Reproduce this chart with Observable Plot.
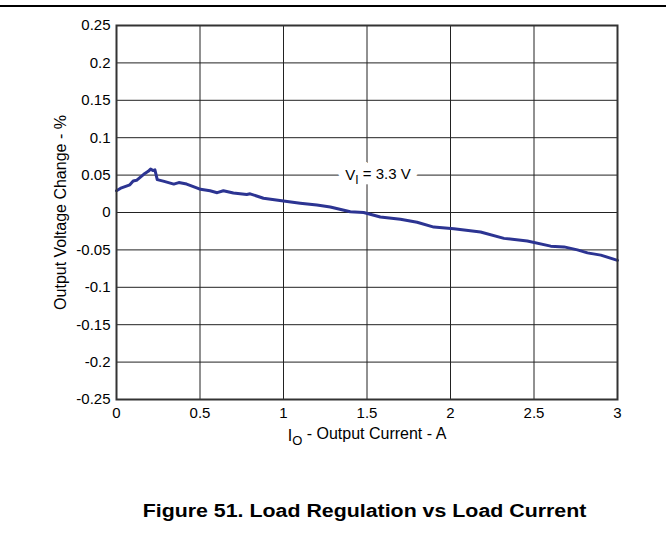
<!DOCTYPE html>
<html>
<head>
<meta charset="utf-8">
<script src="https://cdn.jsdelivr.net/npm/d3@7"></script>
<script src="https://cdn.jsdelivr.net/npm/@observablehq/plot@0.6"></script>
<style>
  html, body { margin: 0; padding: 0; background: #fff; }
  #wrap { position: relative; width: 666px; height: 540px; overflow: hidden; font-family: "Liberation Sans", Arial, sans-serif; }
  #rule { position: absolute; left: 0; top: 5px; width: 666px; height: 2px; background: #000; }
  #title { position: absolute; left: 114px; width: 501px; top: 501px; text-align: center; font-size: 17.5px; font-weight: bold; color: #000; white-space: nowrap; transform: scaleX(1.22); transform-origin: 50% 50%; }
  #chart { position: absolute; left: 0; top: 0; }
</style>
</head>
<body>
<div id="wrap">
  <div id="chart"></div>
  <div id="rule"></div>
  <div id="title">Figure 51. Load Regulation vs Load Current</div>
</div>
<script>
// Data
const currentA = [0.0, 0.03, 0.08, 0.10, 0.12, 0.163, 0.19, 0.204, 0.22, 0.23, 0.244, 0.28, 0.343, 0.373, 0.42, 0.48, 0.503, 0.56, 0.603, 0.64, 0.70, 0.78, 0.80, 0.88, 1.0, 1.1, 1.2, 1.28, 1.4, 1.48, 1.58, 1.7, 1.8, 1.9, 2.02, 2.18, 2.32, 2.46, 2.6, 2.68, 2.76, 2.82, 2.9, 3.0];
const changePct = [0.029, 0.033, 0.037, 0.042, 0.043, 0.051, 0.055, 0.058, 0.056, 0.057, 0.044, 0.042, 0.038, 0.040, 0.038, 0.033, 0.031, 0.029, 0.0265, 0.029, 0.026, 0.024, 0.025, 0.019, 0.0154, 0.0125, 0.010, 0.0074, 0.001, 0.0, -0.006, -0.009, -0.013, -0.0195, -0.0217, -0.026, -0.0346, -0.038, -0.045, -0.046, -0.050, -0.054, -0.057, -0.064];

const xTicks = [0, 0.5, 1, 1.5, 2, 2.5, 3];
const yTicks = [-0.25, -0.2, -0.15, -0.1, -0.05, 0, 0.05, 0.1, 0.15, 0.2, 0.25];

const xLabel = "IO - Output Current - A";
const yLabel = "Output Voltage Change - %";
const annotation = [{x: 1.566, y: 0.05, text: "VI = 3.3 V"}];

const data = currentA.map((x, i) => ({x, y: changePct[i]}));

const gridColor = "#222";
const lineColor = "#2c3492";

const plot = Plot.plot({
  width: 666,
  height: 460,
  marginTop: 25,
  marginBottom: 61,
  marginLeft: 116,
  marginRight: 49,
  style: {fontFamily: "'Liberation Sans', Arial, sans-serif", fontSize: "15px", color: "#000", background: "transparent"},
  x: {domain: [0, 3], ticks: xTicks, tickFormat: d => String(d)},
  y: {domain: [-0.25, 0.25], ticks: yTicks, tickFormat: d => String(d)},
  marks: [
    Plot.gridX(xTicks, {stroke: gridColor, strokeOpacity: 1, strokeWidth: 1}),
    Plot.gridY(yTicks, {stroke: gridColor, strokeOpacity: 1, strokeWidth: 1}),
    // white knock-out behind the annotation
    Plot.text(annotation, {x: "x", y: "y", text: "text", fontSize: 15, fill: "white", stroke: "white", strokeWidth: 16, strokeLinejoin: "miter"}),
    Plot.text(annotation, {x: "x", y: "y", text: "text", fontSize: 15, fill: "#000"}),
    Plot.line(data, {x: "x", y: "y", stroke: lineColor, strokeWidth: 3}),
    Plot.frame({stroke: "#333", strokeWidth: 2}),
    Plot.axisX(xTicks, {tickSize: 0, tickPadding: 8, fontSize: 15, label: null, tickFormat: d => String(d)}),
    Plot.axisY(yTicks, {tickSize: 0, tickPadding: 6, fontSize: 15, label: null, tickFormat: d => String(d)}),
    Plot.text([xLabel], {frameAnchor: "bottom", dy: 41, fontSize: 16, fill: "#000", text: d => d}),
    Plot.text([yLabel], {frameAnchor: "left", textAnchor: "middle", dx: -56, rotate: -90, fontSize: 16, fill: "#000", text: d => d})
  ]
});

// Add subscripts to the axis label and annotation
d3.select(plot).selectAll("text").each(function() {
  const t = this.textContent;
  const sel = d3.select(this);
  if (t === xLabel) {
    sel.text(null);
    sel.append("tspan").text("I");
    sel.append("tspan").attr("dy", "0.35em").attr("font-size", "13px").text("O");
    sel.append("tspan").attr("dy", "-0.35em").text(" - Output Current - A");
  } else if (t === annotation[0].text) {
    sel.text(null);
    sel.append("tspan").text("V");
    sel.append("tspan").attr("dy", "0.35em").attr("font-size", "12px").text("I");
    sel.append("tspan").attr("dy", "-0.35em").text(" = 3.3 V");
  }
});

document.getElementById("chart").appendChild(plot);
</script>
</body>
</html>
